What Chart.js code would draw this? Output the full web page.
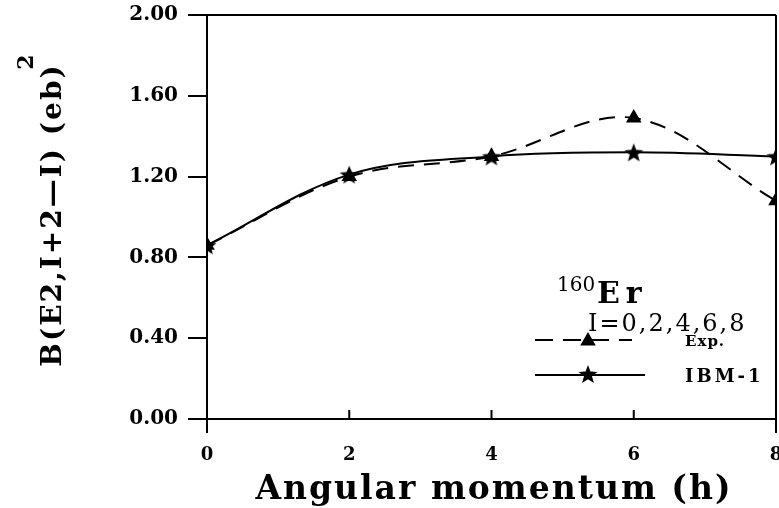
<!DOCTYPE html>
<html>
<head>
<meta charset="utf-8">
<script src="https://cdn.jsdelivr.net/npm/chart.js@4"></script>
<style>
  html, body { margin: 0; padding: 0; background: #fff; }
  #wrap { width: 779px; height: 508px; }
</style>
</head>
<body>
<div id="wrap"><canvas id="be2Chart" width="779" height="508"></canvas></div>
<script>
// data
const momentum = [0, 2, 4, 6, 8];
const expValues = [0.86, 1.20, 1.30, 1.49, 1.08];
const ibmValues = [0.86, 1.21, 1.30, 1.32, 1.30];
const yTickValues = [0, 0.4, 0.8, 1.2, 1.6, 2.0];
const xTickValues = [0, 2, 4, 6, 8];

const serif = '"DejaVu Serif", "Liberation Serif", serif';

// filled five point star for IBM-1 markers
function makeStar(size) {
    const c = document.createElement('canvas');
    c.width = size; c.height = size;
    const g = c.getContext('2d');
    const cx = size / 2, cy = size / 2 + 1, R = size / 2, r = R * 0.42;
    g.beginPath();
    for (let i = 0; i < 10; i++) {
        const a = -Math.PI / 2 + i * Math.PI / 5;
        const rad = i % 2 === 0 ? R : r;
        g.lineTo(cx + rad * Math.cos(a), cy + rad * Math.sin(a));
    }
    g.closePath();
    g.fillStyle = '#000';
    g.fill();
    return c;
}
const starImg = makeStar(20);

const toPoints = vals => momentum.map((m, i) => ({ x: m, y: vals[i] }));

function drawTriangle(ctx, x, y, r) {
    ctx.beginPath();
    ctx.moveTo(x, y - r);
    ctx.lineTo(x + r * Math.sin(Math.PI / 3), y + r / 2);
    ctx.lineTo(x - r * Math.sin(Math.PI / 3), y + r / 2);
    ctx.closePath();
    ctx.fillStyle = '#000';
    ctx.fill();
}

const textPlugin = {
    id: 'figureText',
    afterDraw(chart) {
        const ctx = chart.ctx;
        const xs = chart.scales.x;
        const area = chart.chartArea;
        ctx.save();
        ctx.strokeStyle = '#000';
        ctx.lineWidth = 2;
        // inner ticks on the x axis
        [2, 4, 6].forEach(v => {
            const px = xs.getPixelForValue(v);
            ctx.beginPath();
            ctx.moveTo(px, area.bottom);
            ctx.lineTo(px, area.bottom - 9);
            ctx.stroke();
        });

        ctx.fillStyle = '#000';
        // x title
        ctx.font = 'bold 33px ' + serif;
        ctx.letterSpacing = '2px';
        ctx.textAlign = 'center';
        ctx.textBaseline = 'alphabetic';
        ctx.fillText('Angular momentum (h)', 494, 499);

        // y title (rotated)
        ctx.save();
        ctx.translate(61, 215);
        ctx.rotate(-Math.PI / 2);
        ctx.font = 'bold 28px ' + serif;
        ctx.letterSpacing = '2px';
        ctx.fillText('B(E2,I+2\u2014I) (eb)', 0, 0);
        ctx.restore();
        ctx.save();
        ctx.translate(33, 62);
        ctx.rotate(-Math.PI / 2);
        ctx.font = 'bold 22px ' + serif;
        ctx.letterSpacing = '0px';
        ctx.fillText('2', 0, 0);
        ctx.restore();

        // nucleus label
        ctx.textAlign = 'left';
        ctx.letterSpacing = '0px';
        ctx.font = '20px ' + serif;
        ctx.fillText('160', 557, 291);
        ctx.font = 'bold 30px ' + serif;
        ctx.letterSpacing = '6px';
        ctx.fillText('Er', 597, 303);
        ctx.font = '24px ' + serif;
        ctx.letterSpacing = '2px';
        ctx.fillText('I=0,2,4,6,8', 588, 331);

        // legend samples
        ctx.lineWidth = 2;
        ctx.setLineDash([18, 10]);
        ctx.beginPath();
        ctx.moveTo(535, 340);
        ctx.lineTo(632, 340);
        ctx.stroke();
        ctx.setLineDash([]);
        drawTriangle(ctx, 588, 341, 9);
        ctx.beginPath();
        ctx.moveTo(535, 375);
        ctx.lineTo(645, 375);
        ctx.stroke();
        ctx.drawImage(starImg, 578, 364);

        ctx.font = 'bold 15px ' + serif;
        ctx.letterSpacing = '1px';
        ctx.textBaseline = 'middle';
        ctx.fillText('Exp.', 685, 342);
        ctx.font = 'bold 18px ' + serif;
        ctx.letterSpacing = '3px';
        ctx.fillText('IBM-1', 685, 377);
        ctx.restore();
    }
};

const ctx = document.getElementById('be2Chart').getContext('2d');
new Chart(ctx, {
    type: 'line',
    data: {
        datasets: [
            {
                label: 'Exp.',
                data: toPoints(expValues),
                borderColor: '#000',
                borderWidth: 2,
                borderDash: [16, 10],
                tension: 0.35,
                pointStyle: 'triangle',
                pointRadius: 9,
                pointBackgroundColor: '#000',
                pointBorderColor: '#000',
                pointBorderWidth: 0
            },
            {
                label: 'IBM-1',
                data: toPoints(ibmValues),
                borderColor: '#000',
                borderWidth: 2,
                tension: 0.35,
                pointStyle: starImg,
                pointRadius: 10
            }
        ]
    },
    options: {
        responsive: false,
        animation: false,
        layout: { autoPadding: false, padding: { top: 15, right: 3, left: 0, bottom: 0 } },
        plugins: {
            legend: { display: false },
            tooltip: { enabled: false }
        },
        scales: {
            x: {
                type: 'linear',
                min: 0,
                max: 8,
                afterBuildTicks: s => { s.ticks = xTickValues.map(v => ({ value: v })); },
                afterFit: s => { s.height = 89; s.paddingLeft = 0; s.paddingRight = 0; },
                border: { display: false },
                grid: {
                    drawOnChartArea: true,
                    lineWidth: 2,
                    tickLength: 14,
                    color: c => (c.tick && c.tick.value === 8) ? '#000' : 'rgba(0,0,0,0)',
                    tickColor: c => (c.tick && (c.tick.value === 0 || c.tick.value === 8)) ? '#000' : 'rgba(0,0,0,0)'
                },
                ticks: {
                    color: '#000',
                    padding: 12,
                    maxRotation: 0,
                    font: { family: serif, size: 18, weight: 'bold' }
                }
            },
            y: {
                min: 0,
                max: 2,
                afterBuildTicks: s => { s.ticks = yTickValues.map(v => ({ value: v })); },
                afterFit: s => { s.width = 207; s.paddingTop = 0; s.paddingBottom = 0; },
                border: { display: true, color: '#000', width: 2 },
                grid: {
                    drawOnChartArea: true,
                    lineWidth: 2,
                    tickLength: 19,
                    color: c => (c.tick && (c.tick.value === 0 || c.tick.value === 2)) ? '#000' : 'rgba(0,0,0,0)',
                    tickColor: '#000'
                },
                ticks: {
                    color: '#000',
                    padding: 10,
                    font: { family: serif, size: 20, weight: 'bold' },
                    callback: v => Number(v).toFixed(2)
                }
            }
        }
    },
    plugins: [textPlugin]
});
</script>
</body>
</html>
